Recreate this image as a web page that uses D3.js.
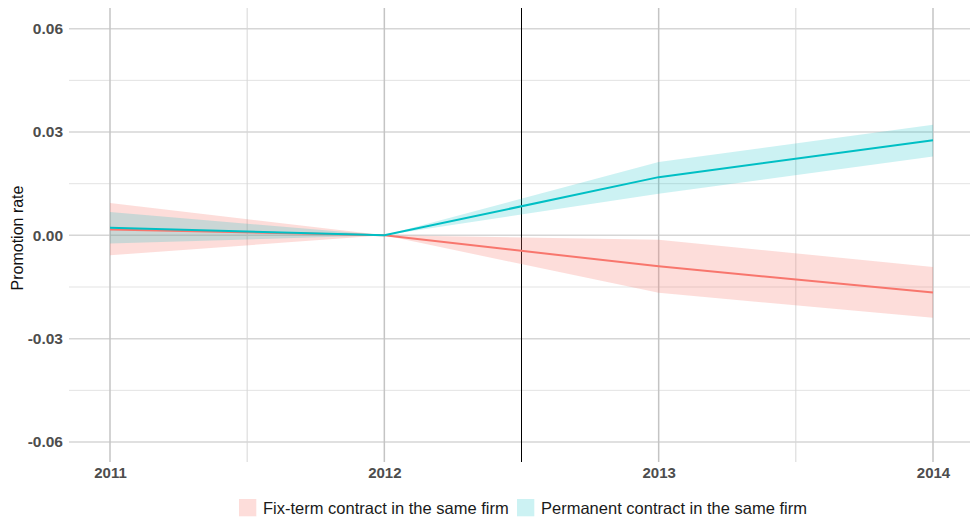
<!DOCTYPE html>
<html>
<head>
<meta charset="utf-8">
<script src="https://cdn.jsdelivr.net/npm/d3@7/dist/d3.min.js"></script>
<style>
  html, body { margin: 0; padding: 0; background: #fff; }
  svg { display: block; font-family: "Liberation Sans", Arial, Helvetica, sans-serif; }
</style>
</head>
<body>
<svg id="chart" width="970" height="517"></svg>
<script>
// Event-study estimates of the promotion rate, relative to 2012
const years = [2011, 2012, 2013, 2014];

const fixTermEstimate = [0.0017, 0, -0.0090, -0.0166];
const fixTermLower    = [-0.0058, 0, -0.0167, -0.0239];
const fixTermUpper    = [0.0094, 0, -0.00125, -0.0092];

const permanentEstimate = [0.0022, 0, 0.0169, 0.0276];
const permanentLower    = [-0.0024, 0, 0.0121, 0.0229];
const permanentUpper    = [0.0068, 0, 0.0213, 0.0321];

const seriesNames = ["Fix-term contract in the same firm", "Permanent contract in the same firm"];
const seriesColors = ["#F8766D", "#00BFC4"];

const yTicks = [-0.06, -0.03, 0, 0.03, 0.06];
const yMinorTicks = [-0.045, -0.015, 0.015, 0.045];
const xMinorTicks = [2011.5, 2012.5, 2013.5];
const treatmentBreak = 2012.5;

const svg = d3.select("#chart");

const panel = { left: 69, right: 970, top: 8, bottom: 462 };

const x = d3.scaleLinear().domain([2011, 2014]).range([110, 933]);
const y = d3.scaleLinear().domain([-0.06, 0.06]).range([442, 28.7]);

// grid
const grid = svg.append("g");
grid.selectAll("line.hminor").data(yMinorTicks).join("line")
  .attr("x1", panel.left).attr("x2", panel.right)
  .attr("y1", d => y(d)).attr("y2", d => y(d))
  .attr("stroke", "#e3e3e3").attr("stroke-width", 1);
grid.selectAll("line.hmajor").data(yTicks).join("line")
  .attr("x1", panel.left).attr("x2", panel.right)
  .attr("y1", d => y(d)).attr("y2", d => y(d))
  .attr("stroke", "#d6d6d6").attr("stroke-width", 1.5);
grid.selectAll("line.vminor").data(xMinorTicks).join("line")
  .attr("x1", d => x(d)).attr("x2", d => x(d))
  .attr("y1", panel.top).attr("y2", panel.bottom)
  .attr("stroke", "#d6d6d6").attr("stroke-width", 1);
grid.selectAll("line.vmajor").data(years).join("line")
  .attr("x1", d => x(d)).attr("x2", d => x(d))
  .attr("y1", panel.top).attr("y2", panel.bottom)
  .attr("stroke", "#c4c4c4").attr("stroke-width", 1.5);

// treatment year separator
svg.append("line")
  .attr("x1", x(treatmentBreak)).attr("x2", x(treatmentBreak))
  .attr("y1", panel.top).attr("y2", panel.bottom)
  .attr("stroke", "#000").attr("stroke-width", 1);

const series = [
  { est: fixTermEstimate, lo: fixTermLower, hi: fixTermUpper, color: seriesColors[0], alpha: 0.25 },
  { est: permanentEstimate, lo: permanentLower, hi: permanentUpper, color: seriesColors[1], alpha: 0.2 }
];

const area = d3.area().x(d => x(d.year)).y0(d => y(d.lo)).y1(d => y(d.hi));
const line = d3.line().x(d => x(d.year)).y(d => y(d.est));

series.forEach(s => {
  const pts = years.map((yr, i) => ({ year: yr, est: s.est[i], lo: s.lo[i], hi: s.hi[i] }));
  svg.append("path").datum(pts).attr("d", area)
    .attr("fill", s.color).attr("fill-opacity", s.alpha);
});
series.forEach(s => {
  const pts = years.map((yr, i) => ({ year: yr, est: s.est[i] }));
  svg.append("path").datum(pts).attr("d", line)
    .attr("fill", "none").attr("stroke", s.color).attr("stroke-width", 2);
});

// axes
const fmt = d => d3.format(".2f")(d).replace("\u2212", "-");
const yAxis = d3.axisLeft(y).tickValues(yTicks).tickFormat(fmt).tickSize(0).tickPadding(6);
const yg = svg.append("g").attr("transform", `translate(${panel.left},0)`).call(yAxis);
yg.attr("font-size", null).attr("font-family", null);
yg.select(".domain").remove();
yg.selectAll("text").style("font-size", "15.5px").style("font-weight", "bold").attr("fill", "#4d4d4d");

const xAxis = d3.axisBottom(x).tickValues(years).tickFormat(d3.format("d")).tickSize(0).tickPadding(5);
const xg = svg.append("g").attr("transform", `translate(0,${panel.bottom})`).call(xAxis);
xg.attr("font-size", null).attr("font-family", null);
xg.select(".domain").remove();
xg.selectAll("text").style("font-size", "15px").style("font-weight", "bold").attr("fill", "#4d4d4d");

svg.append("text")
  .attr("transform", "translate(22.5,238) rotate(-90)")
  .attr("text-anchor", "middle")
  .style("font-size", "16px").attr("fill", "#111")
  .text("Promotion rate");

// legend
const legendItems = [
  { name: seriesNames[0], color: seriesColors[0], alpha: 0.25, x: 239 },
  { name: seriesNames[1], color: seriesColors[1], alpha: 0.2, x: 517 }
];
const lg = svg.append("g");
legendItems.forEach(it => {
  lg.append("rect").attr("x", it.x).attr("y", 499).attr("width", 17.3).attr("height", 17.3)
    .attr("fill", it.color).attr("fill-opacity", it.alpha);
  lg.append("text").attr("x", it.x + 24).attr("y", 514)
    .style("font-size", "16.5px").attr("fill", "#1a1a1a").text(it.name);
});
</script>
</body>
</html>
